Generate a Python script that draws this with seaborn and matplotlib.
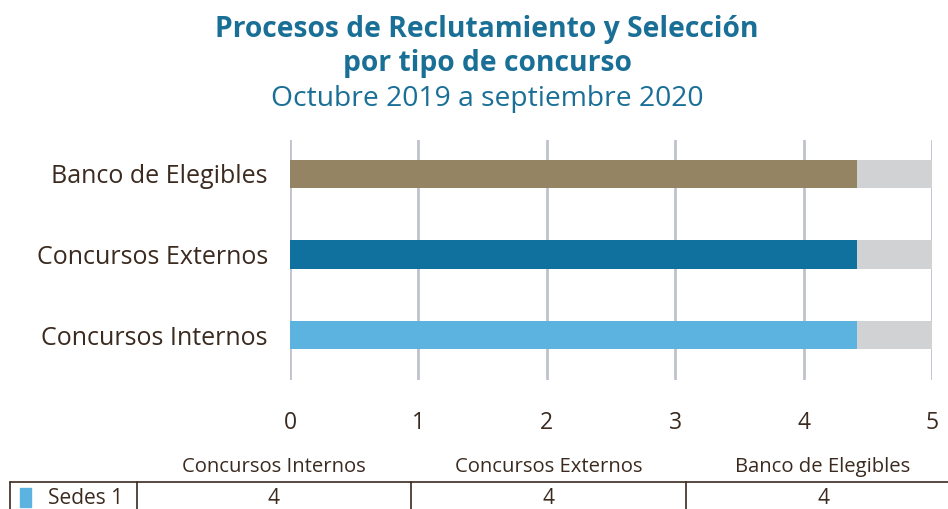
import matplotlib
matplotlib.use("Agg")
import matplotlib.pyplot as plt
import seaborn as sns
import pandas as pd
from matplotlib.lines import Line2D
from matplotlib.patches import Rectangle

categories = ["Banco de Elegibles", "Concursos Externos", "Concursos Internos"]
bar_values = [4.42, 4.42, 4.42]          # bar lengths as drawn in the picture
axis_max = [5, 5, 5]                      # grey background track
table_columns = ["Concursos Internos", "Concursos Externos", "Banco de Elegibles"]
table_values = [4, 4, 4]
series_name = "Sedes 1"
x_ticks = [0, 1, 2, 3, 4, 5]

colors = {"Banco de Elegibles": "#948463",
          "Concursos Externos": "#10719e",
          "Concursos Internos": "#5db3e0"}
grey = "#d1d2d4"
text_col = "#3b2a1f"
title_col = "#1a6f96"

sns.set_theme(style="white")
plt.rcParams["font.family"] = ["Open Sans", "DejaVu Sans"]

fig = plt.figure(figsize=(9.48, 5.09), dpi=100)
ax = fig.add_axes([0.306, 0.253, 0.677, 0.472])

df = pd.DataFrame({"cat": categories, "val": bar_values, "full": axis_max})

sns.barplot(data=df, x="full", y="cat", color=grey, width=0.35, ax=ax,
            order=categories, saturation=1, linewidth=0, zorder=2)
sns.barplot(data=df, x="val", y="cat", hue="cat", palette=colors, width=0.35,
            ax=ax, order=categories, saturation=1, legend=False, linewidth=0, zorder=3)

ax.set_xlim(0, 5)
ax.set_ylim(2.56, -0.42)
ax.set_xticks(x_ticks)
ax.set_xticklabels([str(t) for t in x_ticks])
ax.xaxis.grid(True, color="#c0c2cc", linewidth=2, zorder=1)
ax.set_axisbelow(True)
for s in ax.spines.values():
    s.set_visible(False)
ax.set_xlabel("")
ax.set_ylabel("")
ax.tick_params(axis="x", length=0, pad=22, labelsize=16.5, labelcolor=text_col)
ax.tick_params(axis="y", length=0, pad=16, labelsize=18, labelcolor=text_col)
for lbl in ax.get_yticklabels():
    lbl.set_y(lbl.get_position()[1])

W, H = 948, 509
def fx(px): return px / W
def fy(py): return 1 - py / H

# titles
fig.text(fx(487), fy(30), "Procesos de Reclutamiento y Selección", ha="center", va="center",
         fontsize=20.3, fontweight="bold", color=title_col)
fig.text(fx(487), fy(64), "por tipo de concurso", ha="center", va="center",
         fontsize=20.3, fontweight="bold", color=title_col)
fig.text(fx(487), fy(99), "Octubre 2019 a septiembre 2020", ha="center", va="center",
         fontsize=20.3, color=title_col)

# data table
col_edges = [137, 411, 686, 960]
for i, name in enumerate(table_columns):
    cx = (col_edges[i] + col_edges[i + 1]) / 2
    fig.text(fx(cx), fy(467), name, ha="center", va="center", fontsize=14.6, color=text_col)
    fig.text(fx(cx), fy(499), str(table_values[i]), ha="center", va="center",
             fontsize=15, color=text_col)

fig.add_artist(Line2D([fx(10), fx(948)], [fy(482), fy(482)], color=text_col, lw=1.2))
for xv in [10] + col_edges[:3]:
    fig.add_artist(Line2D([fx(xv), fx(xv)], [fy(482), fy(509)], color=text_col, lw=1.2))
fig.add_artist(Rectangle((fx(20), fy(507)), fx(11), 19 / H, color=colors["Concursos Internos"],
                         transform=fig.transFigure))
fig.text(fx(48), fy(499), series_name, ha="left", va="center", fontsize=15, color=text_col)

fig.savefig("out.png", dpi=100)
